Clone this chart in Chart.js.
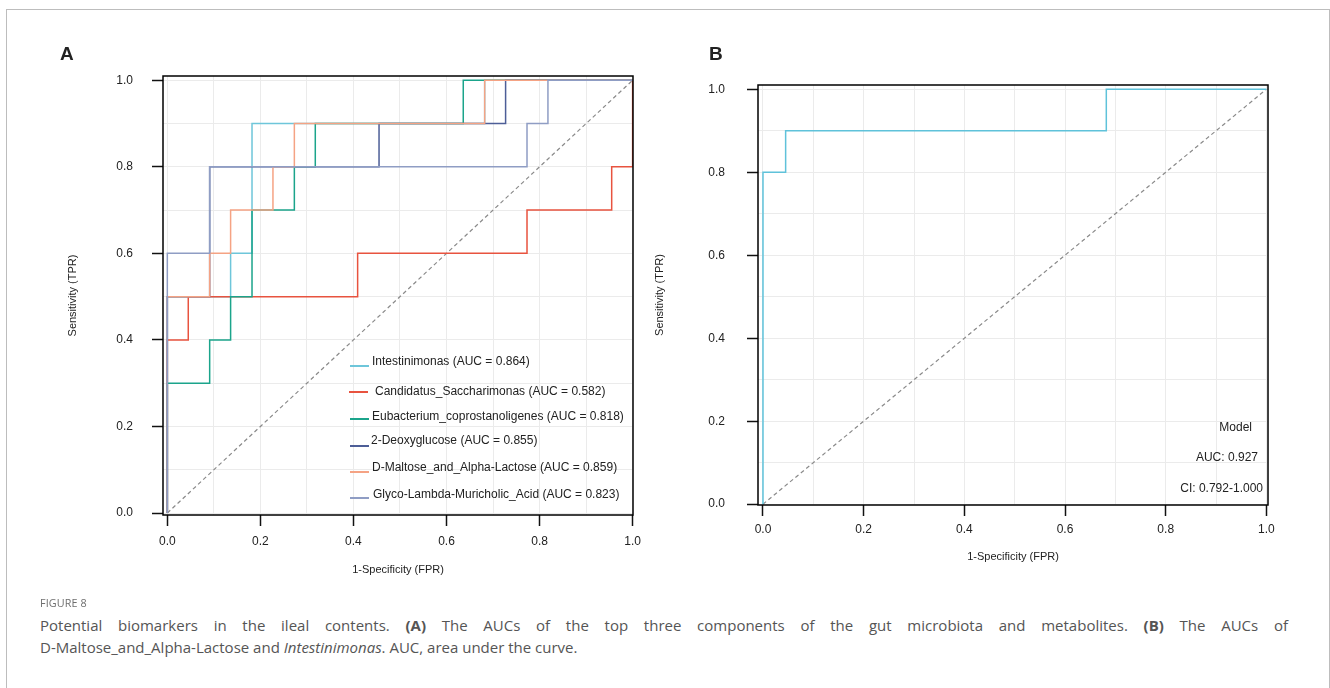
<!DOCTYPE html>
<html>
<head>
<meta charset="utf-8">
<title>Figure 8</title>
<script src="https://cdn.jsdelivr.net/npm/chart.js@4.4.1/dist/chart.umd.min.js"></script>
<style>
  body { margin: 0; width: 1330px; height: 688px; background: #fff; position: relative; overflow: hidden;
         font-family: "Liberation Sans", Arial, sans-serif; color: #222; }
  .frame { position: absolute; left: 6px; top: 9px; width: 1322px; height: 700px; border: 1px solid #bdbdbd; border-bottom: none; }
  canvas { position: absolute; top: 0; }
  #chartA { left: 0; }
  #chartB { left: 640px; }
  .panel { position: absolute; font-weight: bold; font-size: 19px; line-height: 20px; }
  .leg-line { position: absolute; height: 1.5px; width: 19px; }
  .leg-text, .note { position: absolute; font-size: 12px; line-height: 14px; white-space: nowrap; color: #222; }
  .caption { position: absolute; left: 40px; font-family: "Open Sans", "Noto Sans", sans-serif; color: #555; white-space: nowrap; }
  .fig { top: 595px; font-size: 10.8px; color: #6f6f6f; letter-spacing: 0.1px; }
  .cap { font-size: 15px; line-height: 22px; }
  .cap1 { top: 614px; width: 1248px; text-align: justify; text-align-last: justify; white-space: normal; }
  .cap2 { top: 636px; }
</style>
</head>
<body>
<div class="frame"></div>
<canvas id="chartA" width="660" height="600"></canvas>
<canvas id="chartB" width="690" height="600"></canvas>
<div class="panel" style="left:60px; top:44px;">A</div>
<div class="panel" style="left:709px; top:44px;">B</div>
<div id="legendA"></div>
<div class="note" style="right:78px; top:420px;">Model</div>
<div class="note" style="right:72px; top:450px;">AUC: 0.927</div>
<div class="note" style="right:67px; top:481px;">CI: 0.792-1.000</div>
<div class="caption fig">FIGURE 8</div>
<div class="caption cap cap1">Potential biomarkers in the ileal contents. <b>(A)</b> The AUCs of the top three components of the gut microbiota and metabolites. <b>(B)</b> The AUCs of</div>
<div class="caption cap cap2">D-Maltose_and_Alpha-Lactose and <i>Intestinimonas</i>. AUC, area under the curve.</div>

<script>
// panel A: ROC step curves (FPR, TPR corners)
const namesA = [
  "Intestinimonas (AUC = 0.864)",
  "Candidatus_Saccharimonas (AUC = 0.582)",
  "Eubacterium_coprostanoligenes (AUC = 0.818)",
  "2-Deoxyglucose (AUC = 0.855)",
  "D-Maltose_and_Alpha-Lactose (AUC = 0.859)",
  "Glyco-Lambda-Muricholic_Acid (AUC = 0.823)"
];
const colorsA = ["#6ec6da", "#e8533f", "#1ba48b", "#4d5e97", "#f5a384", "#8f9dc4"];

const intestFpr = [0, 0, 0.136, 0.136, 0.182, 0.182, 0.682, 0.682, 1.0];
const intestTpr = [0, 0.5, 0.5, 0.6, 0.6, 0.9, 0.9, 1.0, 1.0];

const candFpr = [0, 0, 0.045, 0.045, 0.409, 0.409, 0.773, 0.773, 0.955, 0.955, 1.0, 1.0];
const candTpr = [0, 0.4, 0.4, 0.5, 0.5, 0.6, 0.6, 0.7, 0.7, 0.8, 0.8, 1.0];

const eubFpr = [0, 0, 0.091, 0.091, 0.136, 0.136, 0.182, 0.182, 0.273, 0.273, 0.318, 0.318, 0.636, 0.636, 1.0];
const eubTpr = [0, 0.3, 0.3, 0.4, 0.4, 0.5, 0.5, 0.7, 0.7, 0.8, 0.8, 0.9, 0.9, 1.0, 1.0];

const deoxyFpr = [0, 0, 0.091, 0.091, 0.455, 0.455, 0.727, 0.727, 1.0];
const deoxyTpr = [0, 0.5, 0.5, 0.8, 0.8, 0.9, 0.9, 1.0, 1.0];

const maltFpr = [0, 0, 0.091, 0.091, 0.136, 0.136, 0.227, 0.227, 0.273, 0.273, 0.682, 0.682, 1.0];
const maltTpr = [0, 0.5, 0.5, 0.6, 0.6, 0.7, 0.7, 0.8, 0.8, 0.9, 0.9, 1.0, 1.0];

const glycoFpr = [0, 0, 0.091, 0.091, 0.773, 0.773, 0.818, 0.818, 1.0];
const glycoTpr = [0, 0.6, 0.6, 0.8, 0.8, 0.9, 0.9, 1.0, 1.0];

// panel B: combined model
const modelFpr = [0, 0, 0.045, 0.045, 0.682, 0.682, 1.0];
const modelTpr = [0, 0.8, 0.8, 0.9, 0.9, 1.0, 1.0];

const diagX = [0, 1];
const diagY = [0, 1];

const axisTicks = [0, 0.2, 0.4, 0.6, 0.8, 1.0];
const xTitle = "1-Specificity (FPR)";
const yTitle = "Sensitivity (TPR)";

const curvesA = [
  [intestFpr, intestTpr], [candFpr, candTpr], [eubFpr, eubTpr],
  [deoxyFpr, deoxyTpr], [maltFpr, maltTpr], [glycoFpr, glycoTpr]
];

function toPoints(xs, ys) {
  return xs.map((x, i) => ({ x: x, y: ys[i] }));
}

function isMajor(v) {
  return axisTicks.some(t => Math.abs(t - v) < 1e-6);
}

const boxPlugin = {
  id: "box",
  afterDatasetsDraw(chart) {
    const { ctx, chartArea: a } = chart;
    ctx.save();
    ctx.strokeStyle = "#000";
    ctx.lineWidth = 1.5;
    ctx.strokeRect(a.left, a.top, a.right - a.left, a.bottom - a.top);
    ctx.restore();
  }
};

function makeAxis(p, horizontal) {
  return {
    type: "linear",
    position: horizontal ? "bottom" : "left",
    min: horizontal ? p.xMin : p.yMin,
    max: horizontal ? p.xMax : p.yMax,
    afterFit: s => {
      if (horizontal) s.height = p.xHeight; else s.width = p.yWidth;
    },
    border: { display: false },
    grid: {
      color: "#ebebeb",
      lineWidth: 1,
      tickLength: 11,
      tickWidth: 1.5,
      tickColor: c => (isMajor(c.tick.value) ? "#111" : "rgba(0,0,0,0)")
    },
    ticks: {
      stepSize: 0.1,
      includeBounds: false,
      autoSkip: false,
      maxRotation: 0,
      padding: horizontal ? p.xTickPad : p.yTickPad,
      color: "#222",
      font: { family: "'Liberation Sans', Arial, sans-serif", size: 12 },
      callback: v => (isMajor(v) ? v.toFixed(1) : "")
    },
    title: {
      display: true,
      text: horizontal ? xTitle : yTitle,
      color: "#222",
      font: { family: "'Liberation Sans', Arial, sans-serif", size: 11 },
      padding: horizontal ? { top: 0, bottom: p.xTitlePad } : { top: p.yTitlePad, bottom: 0 }
    }
  };
}

function makeChart(id, p, datasets) {
  datasets.push({
    data: toPoints(diagX, diagY),
    borderColor: "#8a8a8a",
    borderWidth: 1.2,
    borderDash: [4, 3],
    order: 100
  });
  datasets.forEach(d => {
    d.showLine = true;
    d.pointRadius = 0;
    d.tension = 0;
  });
  return new Chart(document.getElementById(id), {
    type: "scatter",
    data: { datasets: datasets },
    options: {
      responsive: false,
      animation: false,
      layout: { padding: { left: 0, top: p.padTop, right: p.padRight, bottom: 0 } },
      plugins: { legend: { display: false }, tooltip: { enabled: false } },
      scales: { x: makeAxis(p, true), y: makeAxis(p, false) }
    },
    plugins: [boxPlugin]
  });
}

const panelA = {
  xMin: -0.0093, xMax: 1.0008, yMin: -0.0046, yMax: 1.0099,
  yWidth: 163, xHeight: 85, padTop: 76, padRight: 27,
  xTickPad: 8, yTickPad: 19, xTitlePad: 23.4, yTitlePad: 66.4
};
const panelB = {
  xMin: -0.0099, xMax: 1.0032, yMin: -0.002, yMax: 1.0103,
  yWidth: 118, xHeight: 95, padTop: 85, padRight: 62,
  xTickPad: 6, yTickPad: 22, xTitlePad: 36.4, yTitlePad: 13.4
};

// later series drawn on top
const setsA = curvesA.map((c, i) => ({
  label: namesA[i],
  data: toPoints(c[0], c[1]),
  borderColor: colorsA[i],
  borderWidth: 1.5,
  order: namesA.length - i
}));
makeChart("chartA", panelA, setsA);

makeChart("chartB", panelB, [{
  label: "Model",
  data: toPoints(modelFpr, modelTpr),
  borderColor: "#5fc2da",
  borderWidth: 1.5,
  order: 1
}]);

// legend inside panel A
const legendRows = [
  { lineY: 365, lineX: 350, textX: 372, textY: 354 },
  { lineY: 391, lineX: 349, textX: 375, textY: 384 },
  { lineY: 418, lineX: 350, textX: 372, textY: 409 },
  { lineY: 445, lineX: 350, textX: 371, textY: 433 },
  { lineY: 471, lineX: 350, textX: 372, textY: 460 },
  { lineY: 497, lineX: 350, textX: 373, textY: 487 }
];
const legendBox = document.getElementById("legendA");
namesA.forEach((name, i) => {
  const r = legendRows[i];
  const line = document.createElement("div");
  line.className = "leg-line";
  line.style.left = r.lineX + "px";
  line.style.top = r.lineY + "px";
  line.style.background = colorsA[i];
  legendBox.appendChild(line);
  const txt = document.createElement("div");
  txt.className = "leg-text";
  txt.style.left = r.textX + "px";
  txt.style.top = r.textY + "px";
  txt.textContent = name;
  legendBox.appendChild(txt);
});
</script>
</body>
</html>
